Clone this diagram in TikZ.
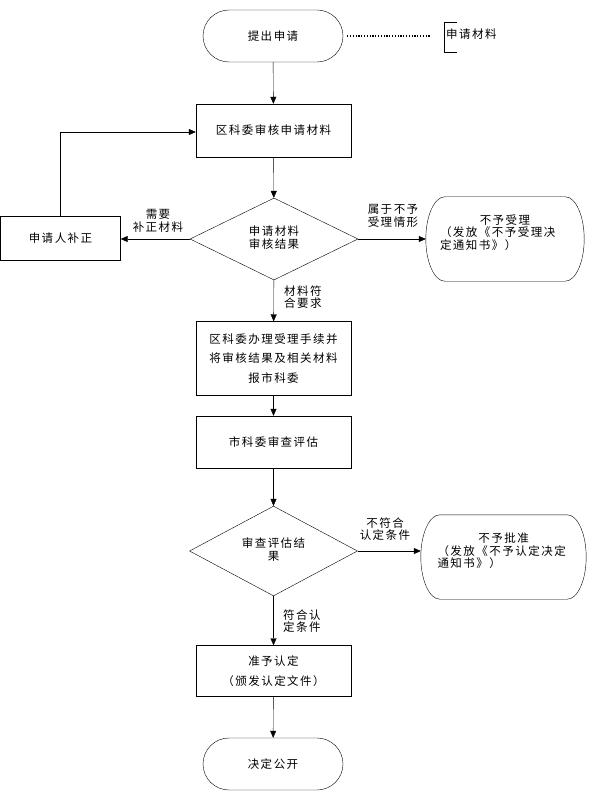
\documentclass[tikz,border=0pt]{standalone}
\usepackage{fontspec}
\setmainfont[LetterSpace=13]{Noto Sans CJK SC}
\usepackage{tikz}
\usetikzlibrary{shapes.geometric,arrows.meta}
\newcommand{\sideoutline}[1]{
    % Draw the outline with flat elliptic ends
    \draw ([xshift=19pt]#1.north west) -- ([xshift=-19pt]#1.north east)
      .. controls ([xshift=-8.5pt]#1.north east) and ([yshift=23pt]#1.east) .. (#1.east)
      .. controls ([yshift=-23pt]#1.east) and ([xshift=-8.5pt]#1.south east) .. ([xshift=-19pt]#1.south east)
      -- ([xshift=19pt]#1.south west)
      .. controls ([xshift=8.5pt]#1.south west) and ([yshift=-23pt]#1.west) .. (#1.west)
      .. controls ([yshift=23pt]#1.west) and ([xshift=8.5pt]#1.north west) .. ([xshift=19pt]#1.north west)
      -- cycle;
}

\begin{document}
\begin{tikzpicture}[x=1pt,y=-1pt,
  font=\fontsize{11.5}{12.5}\selectfont,
  >={Triangle[length=7pt,width=6pt]},
  stepbox/.style={draw,rectangle,minimum width=155pt,minimum height=53pt,align=center,inner sep=2pt},
  endbox/.style={draw,rounded corners=26pt,minimum width=140pt,minimum height=52pt},
  sidebox/.style={rectangle,minimum height=84pt,inner sep=0pt},
  decision/.style={draw,diamond,minimum width=168pt,minimum height=82pt,inner sep=0pt,align=center},
  edgelabel/.style={align=center,inner sep=0pt}]
  \useasboundingbox (0,0) rectangle (589,791);

  % Draw the main column
  \node[endbox] (apply) at (273,36) {提出申请};
  \node[stepbox] (district) at (273.5,130.5) {区科委审核申请材料};
  \node[decision] (check) at (274,239) {\raisebox{5pt}{\begin{tabular}{@{}c@{}}申请材料\\审核结果\end{tabular}}};
  \node[stepbox,minimum height=74pt,font=\fontsize{11.5}{19.5}\selectfont] (report) at (273.5,358.5) {区科委办理受理手续并\\将审核结果及相关材料\\报市科委};
  \node[stepbox,minimum height=52pt] (city) at (273.5,442) {市科委审查评估};
  \node[decision] (assess) at (273.5,551) {\raisebox{4pt}{\begin{tabular}{@{}c@{}}审查评估结\\果\end{tabular}}};
  \node[stepbox,minimum height=51pt,font=\fontsize{11.5}{20}\selectfont] (grant) at (273.5,671) {准予认定\\（颁发认定文件）};
  \node[endbox] (publish) at (273,764) {决定公开};

  % Draw the side boxes
  \node[stepbox,minimum width=120pt,minimum height=44pt] (amend) at (60.5,238.5) {申请人补正};
  \node[sidebox,minimum width=158pt] (refuse) at (505,239) {\parbox{130pt}{\centering 不予受理\par\raggedright （发放《不予受理决\\定通知书》）\par\vspace{13pt}}};
  \sideoutline{refuse}
  \node[sidebox,minimum width=165pt] (deny) at (503.5,557) {\parbox{132pt}{\centering 不予批准\par\raggedright （发放《不予认定决定\\通知书》）\par\vspace{12pt}}};
  \sideoutline{deny}

  % Materials note
  \node[anchor=west,inner sep=0pt] (material) at (446,34) {申请材料};
  \coordinate (dotend) at (430,36);
  \draw[line width=1.1pt,dash pattern=on 1.2pt off 1.6pt] ([xshift=4pt]apply.east) -- (dotend);
  \draw (457,22) -| (444,52) -- (457,52);

  % Draw the arrows
  \draw[->] (apply) -- (district);
  \draw[->] (district) -- (check);
  \draw[->] (check.west) -- (check.west -| amend.east);
  \draw[->] (amend.north) |- ([yshift=-1.5pt]district.west);
  \draw[->] (check.east) -- (check.east -| refuse.west);
  \draw[->] (check) -- (report);
  \draw[->] (report) -- (city);
  \draw[->] (city) -- (assess);
  \draw[->] (assess.east) -- (assess.east -| deny.west);
  \draw[->] (assess) -- (grant);
  \draw[->] (grant) -- (publish);

  % Label the arrows
  \node[edgelabel] (needmore) at (158,221) {需要\\补正材料};
  \node[edgelabel] (notaccept) at (393,216) {属于不予\\受理情形};
  \node[edgelabel,anchor=west] (meetreq) at (284,297) {材料符\\合要求};
  \node[edgelabel] (notmeet) at (385,529) {不符合\\认定条件};
  \node[edgelabel,anchor=west] (meetcond) at (283,621) {符合认\\定条件};
\end{tikzpicture}
\end{document}
